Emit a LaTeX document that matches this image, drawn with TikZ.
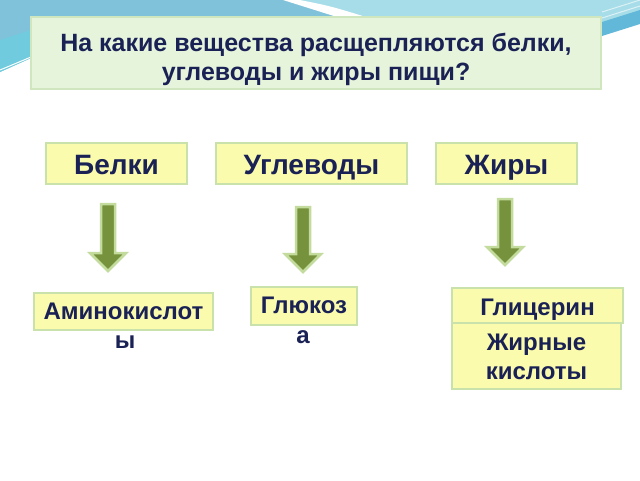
\documentclass[tikz,border=0pt]{standalone}
\usepackage{fontspec}
\setmainfont{Liberation Sans}
\definecolor{navy}{HTML}{1A2255}
\definecolor{skyA}{HTML}{80C2DA}
\definecolor{skyB}{HTML}{A7DDE8}
\definecolor{skyC}{HTML}{6FCBDD}
\definecolor{skyD}{HTML}{62B8D8}
\definecolor{titlefill}{HTML}{E7F4DC}
\definecolor{titleedge}{HTML}{D0E6BE}
\definecolor{yellowfill}{HTML}{FBFBAE}
\definecolor{yellowedge}{HTML}{C9E1AA}
\definecolor{arrowgreen}{HTML}{76923C}
\definecolor{arrowedge}{HTML}{C4DB9E}
\newcommand\greenarrow[3]{%
  \draw[arrowshape] (#1-7,#2) -- (#1+7,#2) -- (#1+7,#3-18) -- (#1+18,#3-18)
    -- (#1,#3) -- (#1-18,#3-18) -- (#1-7,#3-18) -- cycle;}
% two-line text: first baseline is the reference point; #1 height above it, #2 depth below it
\newcommand\twolines[4]{\raisebox{0pt}[#1][#2]{\begin{tabular}[t]{@{}c@{}}#3\\#4\end{tabular}}}
\begin{document}
\begin{tikzpicture}[x=1pt,y=-1pt,
  titlebox/.style={draw=titleedge, line width=1.5pt, fill=titlefill, text=navy,
    font=\bfseries\fontsize{25}{29}\selectfont, inner sep=0pt},
  topbox/.style={draw=yellowedge, line width=1.5pt, fill=yellowfill, text=navy,
    font=\bfseries\fontsize{28}{32}\selectfont, inner sep=0pt,
    text height=22pt, text depth=1pt},
  lowbox/.style={draw=yellowedge, line width=1.5pt, fill=yellowfill, text=navy,
    font=\bfseries\fontsize{24}{29}\selectfont, inner sep=0pt},
  spill/.style={text=navy, font=\bfseries\fontsize{24}{28}\selectfont, inner sep=0pt, anchor=base},
  arrowshape/.style={fill=arrowgreen, draw=arrowedge, line width=2.5pt, line join=miter}]
\useasboundingbox (0,0) rectangle (640,480);
\fill[white] (0,0) rectangle (640,480);
% top sky band
\fill[skyA] (0,0) -- (640,0) -- (640,22) -- (602,35) -- (400,40) -- (31,58) -- (0,72) -- cycle;
\fill[skyB] (290,0) -- (640,0) -- (640,22) -- (602,35) -- (602,17) -- (360,17) -- cycle;
\fill[skyC] (0,40) -- (31,30) -- (31,58) -- (0,72) -- cycle;
\fill[white] (283,0) .. controls (310,8) .. (337,17) -- (366,17) .. controls (330,6) .. (300,0) -- cycle;
\draw[white, line width=1pt] (0,70) -- (31,57);
\fill[skyD] (602,22) -- (640,10) -- (640,24) -- (602,36) -- cycle;
\draw[white!60!skyB, line width=1pt] (602,12) -- (640,0);
\draw[white!60!skyB, line width=1pt] (602,18) -- (640,6);
% title
\node[titlebox, minimum width=570pt, minimum height=72pt] (title) at (316,53)
  {\twolines{21pt}{25pt}{На какие вещества расщепляются белки,}{углеводы и жиры пищи?}};
% top row
\node[topbox, minimum width=141pt, minimum height=41pt] (belki) at (116.5,163.5) {Белки};
\node[topbox, minimum width=191pt, minimum height=41pt] (uglevody) at (311.5,163.5) {Углеводы};
\node[topbox, minimum width=141pt, minimum height=41pt] (zhiry) at (506.5,163.5) {Жиры};
% arrows
\greenarrow{108}{204}{271}
\greenarrow{303}{207}{272}
\greenarrow{505}{199}{265}
% bottom row
\node[lowbox, minimum width=179pt, minimum height=37pt, text height=17pt, text depth=2pt]
  (amino) at (123.5,311.5) {Аминокислот};
\node[spill] (amino2) at (125,348) {ы};
\node[lowbox, minimum width=106pt, minimum height=38pt, text height=16pt, text depth=2pt]
  (gluk) at (304,306) {Глюкоз};
\node[spill] (gluk2) at (303,343) {а};
\node[lowbox, minimum width=171pt, minimum height=35pt, text height=20pt, text depth=1pt]
  (glic) at (537.5,305.5) {Глицерин};
\node[lowbox, minimum width=169pt, minimum height=66pt] (zhk) at (536.5,356)
  {\twolines{20pt}{32pt}{Жирные}{кислоты}};
\end{tikzpicture}
\end{document}
